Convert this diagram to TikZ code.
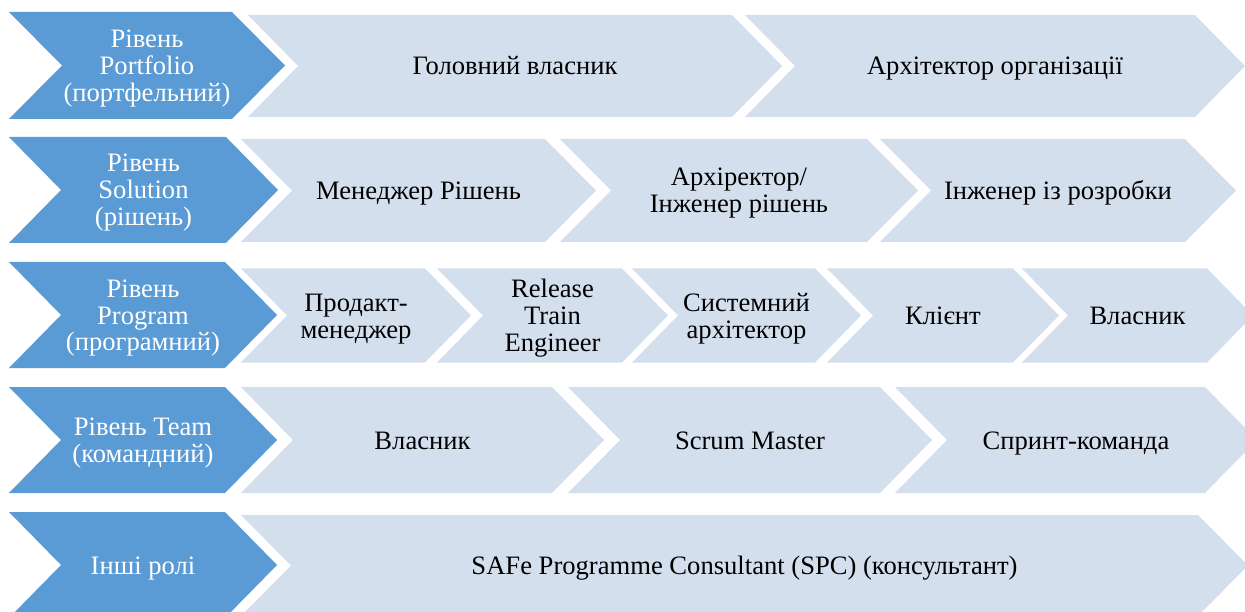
\documentclass[tikz,border=0pt]{standalone}
\usepackage{fontspec}
\setmainfont{Liberation Serif}

\definecolor{levelblue}{HTML}{5B9BD5}
\definecolor{rolefill}{HTML}{D4DFEE}

% one text line with a fixed strut, so every line sits 27pt below the previous one
\newcommand\txtline[1]{\rule{0pt}{18pt}\smash{#1}}

% chevron: left x, top-right x, middle y, half height, point depth, fill colour
\newcommand\chevfill[6]{%
  \fill[#6] (#1,#3-#4) -- (#2,#3-#4) -- (#2+#5,#3) -- (#2,#3+#4)
            -- (#1,#3+#4) -- (#1+#5,#3) -- cycle;}
% level chevron (blue) and role chevron (light), each with its centred label
\newcommand\levelchev[7]{%
  \chevfill{#1}{#2}{#3}{#4}{#5}{levelblue}%
  \node[leveltext] (#6) at ({(#1+#5+#2)/2},#3) {#7};}
\newcommand\rolechev[7]{%
  \chevfill{#1}{#2}{#3}{#4}{#5}{rolefill}%
  \node[roletext] (#6) at ({(#1+#5+#2)/2},#3) {#7};}

\tikzset{
  basetext/.style={inner sep=0pt, align=center, font=\fontsize{26.6}{27}\selectfont},
  leveltext/.style={basetext, text=white},
  roletext/.style={basetext, text=black},
}

\begin{document}
\begin{tikzpicture}[x=1pt, y=-1pt]
\useasboundingbox (0,0) rectangle (1245,612);
\fill[white] (0,0) rectangle (1245,612);
\clip (0,0) rectangle (1245,612);

% Portfolio level
\levelchev{9}{232}{65.5}{53.5}{53}{lvlportfolio}{\txtline{Рівень}\\\txtline{Portfolio}\\\txtline{(портфельний)}}
\rolechev{248}{732}{66}{51}{50}{epicowner}{\txtline{Головний власник}}
\rolechev{745}{1195}{66}{51}{50}{entarch}{\txtline{Архітектор організації}}

% Solution level
\levelchev{9}{226}{190}{53}{52}{lvlsolution}{\txtline{Рівень}\\\txtline{Solution}\\\txtline{(рішень)}}
\rolechev{241}{545}{190.5}{51.5}{51}{solmgr}{\txtline{Менеджер Рішень}}
\rolechev{560}{867}{190.5}{51.5}{51}{solarch}{\txtline{Архіректор/}\\\txtline{Інженер рішень}}
\rolechev{880}{1185}{190.5}{51.5}{51}{deveng}{\txtline{Інженер із розробки}}

% Program level
\levelchev{9}{225}{315}{53}{52}{lvlprogram}{\txtline{Рівень}\\\txtline{Program}\\\txtline{(програмний)}}
\rolechev{241}{425}{315.5}{47}{46}{prodmgr}{\txtline{Продакт-}\\\txtline{менеджер}}
\rolechev{437}{622}{315.5}{47}{46}{rte}{\txtline{Release}\\\txtline{Train}\\\txtline{Engineer}}
\rolechev{632}{815}{315.5}{47}{46}{sysarch}{\txtline{Системний}\\\txtline{архітектор}}
\rolechev{827}{1013}{315.5}{47}{46}{client}{\txtline{Клієнт}}
\rolechev{1022}{1207}{315.5}{47}{46}{bizowner}{\txtline{Власник}}

% Team level
\levelchev{9}{225}{440}{53}{52}{lvlteam}{\txtline{Рівень Team}\\\txtline{(командний)}}
\rolechev{241}{552}{440}{53}{52}{prodowner}{\txtline{Власник}}
\rolechev{568}{880}{440}{53}{52}{scrummaster}{\txtline{Scrum Master}}
\rolechev{895}{1205}{440}{53}{52}{sprintteam}{\txtline{Спринт-команда}}

% Other roles
\levelchev{9}{225}{565}{53}{52}{lvlother}{\txtline{Інші ролі}}
\rolechev{241}{1198}{565.5}{50.5}{50}{spc}{\txtline{SAFe Programme Consultant (SPC) (консультант)}}
\end{tikzpicture}
\end{document}
